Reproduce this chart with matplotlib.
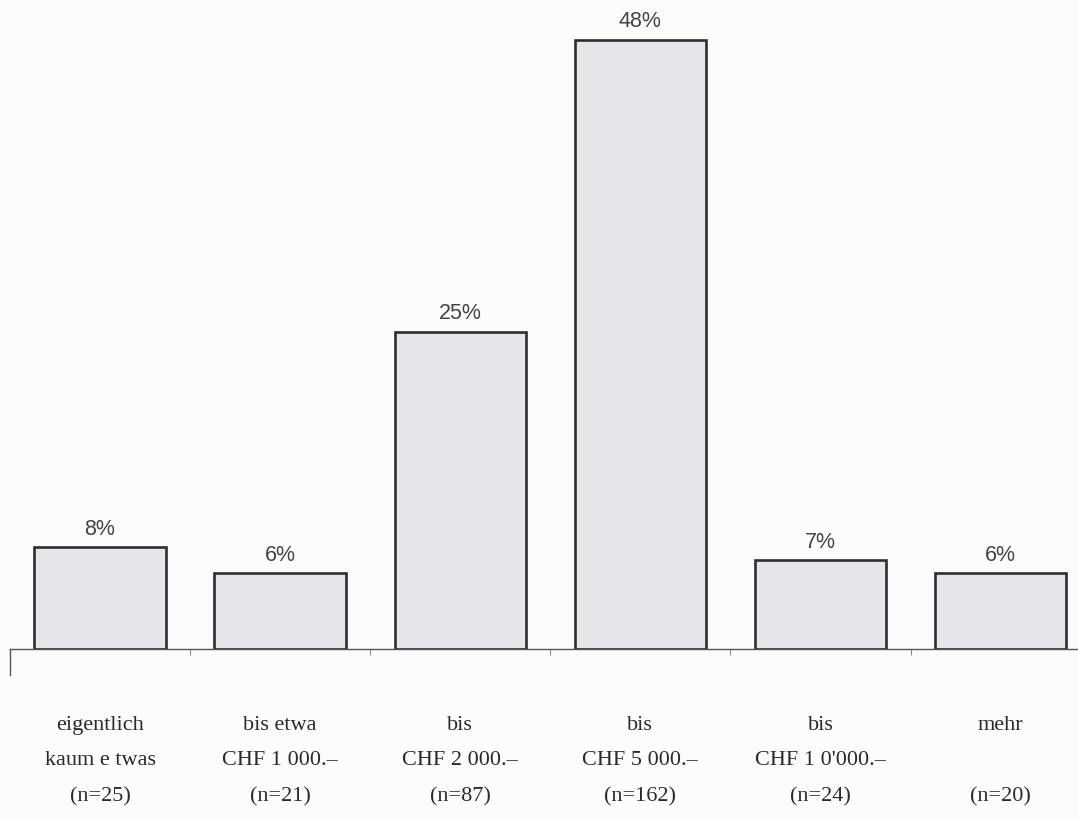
import matplotlib.pyplot as plt
import numpy as np

# monthly amount categories and survey shares
cat_line1 = ['eigentlich', 'bis etwa', 'bis', 'bis', 'bis', 'mehr']
cat_line2 = ['kaum e twas', 'CHF 1 000.\u2013', 'CHF 2 000.\u2013', 'CHF 5 000.\u2013', "CHF 1 0'000.\u2013", '']
n_resp = [25, 21, 87, 162, 24, 20]
share = [8, 6, 25, 48, 7, 6]

fig = plt.figure(figsize=(10.78, 8.2), dpi=100)
fig.patch.set_facecolor('#fcfcfc')
ax = fig.add_axes([10 / 1078, 170 / 820, 1068 / 1078, 650 / 820])
ax.set_facecolor('#fcfcfc')

x = np.arange(len(share))
bars = ax.bar(x, share, width=0.73, color='#e4e6ea', edgecolor='#2e2e2e', linewidth=1.9)

# value labels above bars
for xi, v in zip(x, share):
    ax.text(xi, v + 0.65, f'{v}%', ha='center', va='bottom', fontsize=15.5,
            color='#444444', family='Liberation Sans')

# three-line category labels below the axis
for xi, l1, l2, n in zip(x, cat_line1, cat_line2, n_resp):
    txt = f'{l1}\n{l2}\n(n={n})'
    ax.text(xi, -0.102, txt, transform=ax.get_xaxis_transform(), ha='center', va='top',
            fontsize=16, family='Liberation Serif', color='#2a2a2a', linespacing=2.15)

ax.set_xlim(-0.5, 5.43)
ax.set_ylim(0, 51.2)
for s in ['top', 'right', 'left']:
    ax.spines[s].set_visible(False)
ax.spines['bottom'].set_color('#555555')
ax.spines['bottom'].set_linewidth(1.0)
ax.set_yticks([])
ax.set_xticks(np.arange(0.5, 5, 1.0))
ax.set_xticklabels([])
ax.tick_params(axis='x', direction='out', length=4, color='#888888', width=0.8)
# short stub at the left end of the axis
ax.axvline(-0.5, ymin=-0.04, ymax=0, color='#555555', linewidth=1.0, clip_on=False)

fig.savefig('out.png', dpi=100, facecolor=fig.get_facecolor())
